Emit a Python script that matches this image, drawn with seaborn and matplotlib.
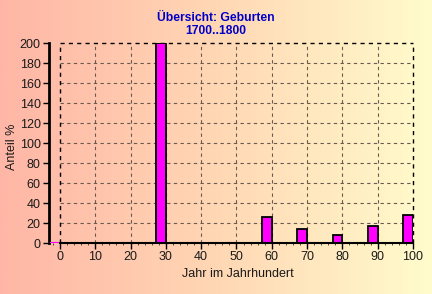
import numpy as np
import pandas as pd
import matplotlib
matplotlib.use("Agg")
import matplotlib.pyplot as plt
import seaborn as sns
from matplotlib.colors import LinearSegmentedColormap
from matplotlib.ticker import MultipleLocator

# ---- data ----
years = [0, 20, 30, 40, 50, 60, 70, 80, 90, 100]
shares = [0, 0, 200, 0, 0, 26, 14, 8, 17, 28]
x_ticks = [0, 10, 20, 30, 40, 50, 60, 70, 80, 90, 100]
y_ticks = [0, 20, 40, 60, 80, 100, 120, 140, 160, 180, 200]
title_lines = ["Übersicht: Geburten", "1700..1800"]
x_label = "Jahr im Jahrhundert"
y_label = "Anteil %"

sns.set_style("white")
plt.rcParams['font.family'] = ['Liberation Sans', 'DejaVu Sans']

W, H = 432, 294
fig = plt.figure(figsize=(W / 100, H / 100), dpi=100)

# gradient background
bg = fig.add_axes([0, 0, 1, 1], zorder=-10)
cmap = LinearSegmentedColormap.from_list('bg', ['#ffb6a6', '#ffd7b4', '#fffccc'])
bg.imshow(np.linspace(0, 1, 256)[None, :], aspect='auto', cmap=cmap, extent=[0, 1, 0, 1])
bg.axis('off')

ax = fig.add_axes([49 / W, 1 - 243 / H, (413 - 49) / W, 200 / H])
ax.patch.set_alpha(0)

df = pd.DataFrame({'year': years, 'share': shares})
sns.barplot(data=df, x='year', y='share', native_scale=True, width=0.28,
            color='#ff00ff', saturation=1, edgecolor='black', linewidth=1.3,
            ax=ax, zorder=3)

for p in ax.patches:
    p.set_x(p.get_x() - p.get_width() / 2)
    if p.get_height() == 0:
        p.set_edgecolor('#ff00ff')
        p.set_linewidth(1.5)

ax.set_xlim(-3.1, 100)
ax.set_ylim(0, 200)

# grid
inner_x = [t for t in x_ticks if t not in (0, 100)]
inner_y = [t for t in y_ticks if t not in (0, 200)]
ax.vlines(inner_x, 0, 200, colors='#6a5a50', linestyles=(0, (3, 3)), lw=0.8, zorder=1)
ax.hlines(inner_y, 0, 100, colors='#6a5a50', linestyles=(0, (3, 3)), lw=0.8, zorder=1)
ax.vlines([0, 100], 0, 200, colors='black', linestyles=(0, (3, 3)), lw=1.0, zorder=2, clip_on=False)
ax.hlines([200], 0, 100, colors='black', linestyles=(0, (3, 3)), lw=1.0, zorder=2, clip_on=False)

for s in ('top', 'right'):
    ax.spines[s].set_visible(False)
ax.spines['bottom'].set_bounds(0, 100)
ax.spines['bottom'].set_linewidth(1.5)
ax.spines['bottom'].set_color('black')
ax.spines['bottom'].set_zorder(4)
ax.spines['left'].set_linewidth(2)
ax.spines['left'].set_color('black')

ax.set_xticks(x_ticks)
ax.set_xticklabels([str(t) for t in x_ticks])
ax.set_yticks(y_ticks)
ax.set_yticklabels([str(t) for t in y_ticks])
ax.xaxis.set_minor_locator(MultipleLocator(2))
ax.tick_params(axis='both', which='major', direction='out', length=4, width=1,
               color='black', labelsize=9, labelcolor='#1a1a1a', pad=2)
ax.tick_params(axis='x', which='minor', direction='out', length=1.5, width=0.6, color='#333333')
ax.tick_params(axis='x', which='both', bottom=True)
ax.tick_params(axis='y', left=True)
ax.set_xlabel('')
ax.set_ylabel('')

fig.text(0.5, 1 - 18 / H, title_lines[0], ha='center', va='center',
         fontsize=8.7, fontweight='bold', color='#0000c8')
fig.text(0.5, 1 - 31 / H, title_lines[1], ha='center', va='center',
         fontsize=8.7, fontweight='bold', color='#0000c8')
fig.text(12 / W, 1 - 147 / H, y_label, rotation=90, ha='center', va='center',
         fontsize=9, color='#1a1a1a')
fig.text(238 / W, 1 - 274 / H, x_label, ha='center', va='center',
         fontsize=9, color='#1a1a1a')

fig.savefig('out.png', dpi=100)
